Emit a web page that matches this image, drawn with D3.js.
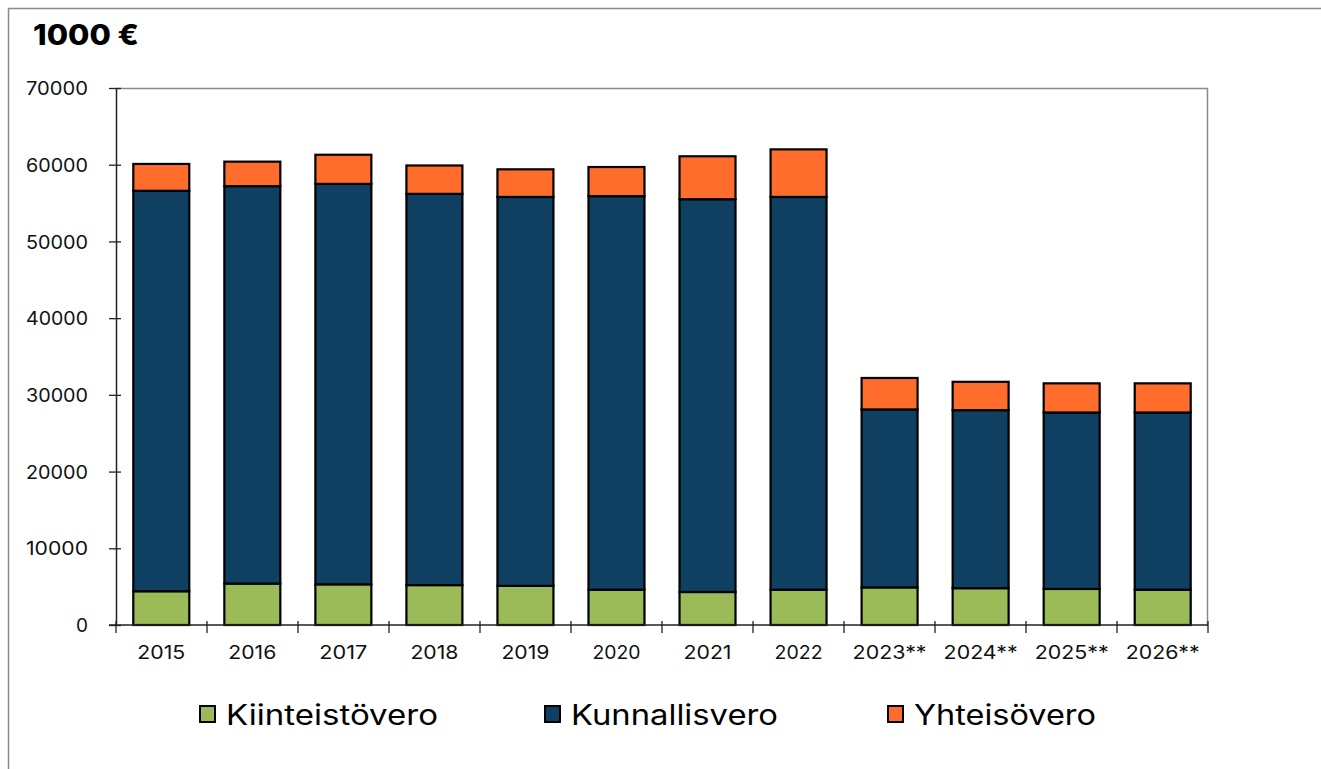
<!DOCTYPE html>
<html><head><meta charset="utf-8">
<script src="https://cdn.jsdelivr.net/npm/d3@7"></script>
<style>
body{margin:0;background:#fff;}
svg{display:block;font-family:"Inter","Roboto",sans-serif;}
</style></head>
<body>
<svg id="c" width="1321" height="769"></svg>
<script>
const categories = ["2015","2016","2017","2018","2019","2020","2021","2022","2023**","2024**","2025**","2026**"];
const kiinteistovero = [4400,5400,5300,5200,5100,4600,4300,4600,4900,4800,4700,4600];
const kunnallisvero = [52200,51800,52200,51000,50700,51300,51200,51200,23200,23200,23000,23100];
const yhteisovero = [3500,3200,3800,3700,3600,3800,5600,6200,4100,3700,3800,3800];
const seriesNames = ["Kiinteistövero","Kunnallisvero","Yhteisövero"];
const colors = ["#9BBB59","#0F4061","#FF6D2C"];
const yTicks = [0,10000,20000,30000,40000,50000,60000,70000];

const svg = d3.select("#c");
const L=116,R=1208,T=88,B=625;

// outer frame
svg.append("path").attr("d","M8.5,769 V8.5 H1321").attr("fill","none").attr("stroke","#8a8a8a").attr("stroke-width",1.5);

svg.append("text").attr("x",33).attr("y",45).attr("font-size",28).attr("font-weight",800).attr("fill","#000")
  .attr("textLength",106).attr("lengthAdjust","spacingAndGlyphs").text("1000 €");

const x = d3.scaleBand().domain(categories).range([L,R]).paddingInner(0.385).paddingOuter(0.19);
const y = d3.scaleLinear().domain([0,70000]).range([B,T]);

// plot frame top/right
svg.append("path").attr("d",`M${L},${T+0.5} H${R-0.5} V${B}`).attr("fill","none").attr("stroke","#8a8a8a").attr("stroke-width",1.5);

const data = categories.map((c,i)=>({cat:c,"Kiinteistövero":kiinteistovero[i],"Kunnallisvero":kunnallisvero[i],"Yhteisövero":yhteisovero[i]}));
const stack = d3.stack().keys(seriesNames)(data);

svg.append("g").selectAll("g").data(stack).join("g")
  .attr("fill",(d,i)=>colors[i])
  .selectAll("rect").data(d=>d).join("rect")
  .attr("x",d=>x(d.data.cat))
  .attr("width",x.bandwidth())
  .attr("y",d=>y(d[1]))
  .attr("height",d=>y(d[0])-y(d[1]))
  .attr("stroke","#000").attr("stroke-width",2.2);

// y axis
const yAx = svg.append("g").attr("transform",`translate(${L},0)`)
  .call(d3.axisLeft(y).tickValues(yTicks).tickFormat(d3.format("d")).tickSizeInner(7).tickSizeOuter(0).tickPadding(21));
yAx.select(".domain").attr("stroke","#222").attr("stroke-width",1.5);
yAx.selectAll(".tick line").attr("x1",-7).attr("x2",5).attr("stroke","#222").attr("stroke-width",1.3);
yAx.selectAll("text").attr("font-size",19).attr("fill","#111").attr("font-family","Inter, Roboto, sans-serif")
  .attr("textLength",d=>d===0?12:62).attr("lengthAdjust","spacingAndGlyphs").attr("dy","0.35em");

// x axis
const xAx = svg.append("g").attr("transform",`translate(0,${B})`);
xAx.append("line").attr("x1",L-7).attr("x2",R).attr("y1",0).attr("y2",0).attr("stroke","#222").attr("stroke-width",1.5);
const bounds = d3.range(categories.length+1).map(i=>L+i*(R-L)/categories.length);
xAx.selectAll("line.t").data(bounds).join("line").attr("class","t")
  .attr("x1",d=>d).attr("x2",d=>d).attr("y1",-4).attr("y2",8).attr("stroke","#222").attr("stroke-width",1.3);
xAx.selectAll("text").data(categories).join("text")
  .attr("x",d=>x(d)+x.bandwidth()/2).attr("y",34).attr("text-anchor","middle")
  .attr("font-size",19).attr("fill","#111")
  .attr("textLength",d=>d.length>4?74:48).attr("lengthAdjust","spacingAndGlyphs").text(d=>d);

// legend
const legX=[200,545,888];
const legW=[212,207,182];
const lg = svg.append("g").selectAll("g").data(seriesNames).join("g").attr("transform",(d,i)=>`translate(${legX[i]},706)`);
lg.append("rect").attr("width",15).attr("height",16).attr("fill",(d,i)=>colors[i]).attr("stroke","#000").attr("stroke-width",2);
lg.append("text").attr("x",26).attr("y",19).attr("font-size",28).attr("font-family","'Inter','Roboto',sans-serif").attr("fill","#000")
  .attr("textLength",(d,i)=>legW[i]).attr("lengthAdjust","spacingAndGlyphs").text(d=>d);
</script>
</body></html>
